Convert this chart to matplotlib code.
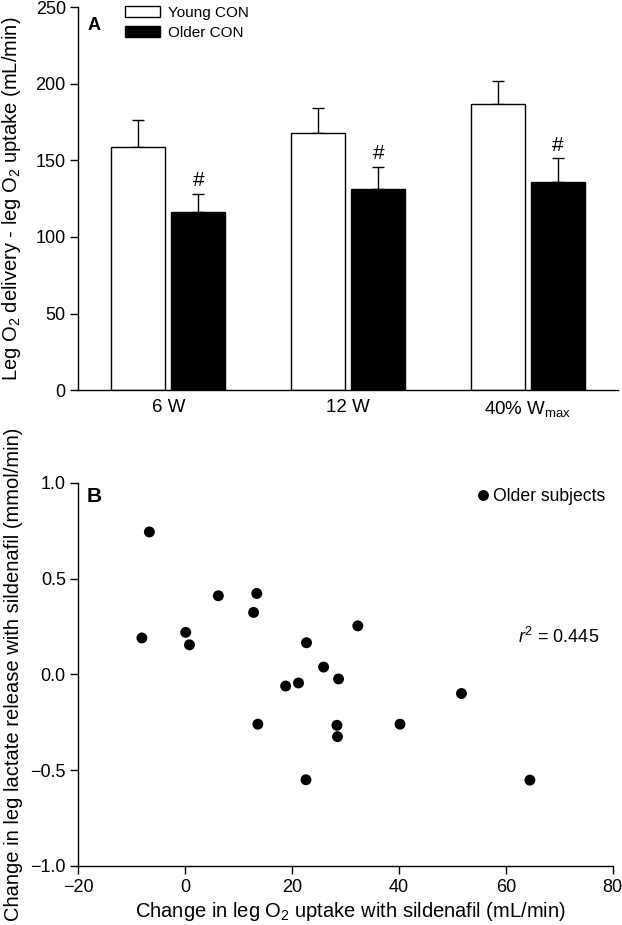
import numpy as np
import matplotlib
matplotlib.use('Agg')
import matplotlib.pyplot as plt
from matplotlib.patches import Patch
from matplotlib.lines import Line2D
from matplotlib.ticker import FuncFormatter

plt.rcParams['font.family'] = ['Liberation Sans', 'DejaVu Sans']
plt.rcParams['mathtext.fontset'] = 'custom'
plt.rcParams['mathtext.rm'] = 'Liberation Sans'
plt.rcParams['mathtext.it'] = 'Liberation Sans:italic'

# panel A data
workloads = ['6 W', '12 W', '40% W$_{\\mathregular{max}}$']
young_mean = [158.5, 167.5, 186.5]
young_sem = [18.0, 16.8, 15.0]
older_mean = [116.5, 131.0, 136.0]
older_sem = [11.5, 14.6, 15.2]

# panel B data
o2_change = [-8.1, -6.7, 0.1, 0.8, 6.2, 13.4, 12.8, 32.3, 22.7, 25.9,
             28.7, 21.2, 18.8, 13.6, 28.4, 28.5, 40.2, 22.6, 51.7, 64.5]
lactate_change = [0.19, 0.743, 0.219, 0.154, 0.41, 0.422, 0.323, 0.253, 0.165, 0.038,
                  -0.024, -0.045, -0.061, -0.26, -0.266, -0.325, -0.26, -0.55, -0.10, -0.552]
r_squared = 0.445

W, H = 622, 925
fig = plt.figure(figsize=(W / 100, H / 100), dpi=100)

def frac(left, right, top, bottom):
    return [left / W, 1 - bottom / H, (right - left) / W, (bottom - top) / H]

def style_axes(ax):
    for s in ['top', 'right']:
        ax.spines[s].set_visible(False)
    for s in ['left', 'bottom']:
        ax.spines[s].set_linewidth(1.0)

# ---- panel A ----
axA = fig.add_axes(frac(78.3, 618, 7, 390.3))
x = np.arange(len(workloads))
bw = 0.30
off = 0.167
axA.bar(x - off, young_mean, bw, color='white', edgecolor='black', linewidth=1.0, zorder=2)
axA.bar(x + off, older_mean, bw, color='black', edgecolor='black', linewidth=1.0, zorder=2)
ek = dict(fmt='none', ecolor='black', elinewidth=1.0, capsize=4.2, capthick=1.0, zorder=1)
axA.errorbar(x - off, young_mean, yerr=[np.zeros(3), young_sem], **ek)
axA.errorbar(x + off, older_mean, yerr=[np.zeros(3), older_sem], **ek)
for xi, m, s in zip(x + off, older_mean, older_sem):
    axA.text(xi, m + s + 5, '#', ha='center', va='baseline', fontsize=15)

axA.set_xlim(-0.5, 2.5)
axA.set_ylim(0, 250)
axA.set_yticks(range(0, 251, 50))
axA.set_xticks(x)
axA.set_xticklabels(workloads)
axA.tick_params(axis='x', length=0, pad=6, labelsize=13.5)
axA.tick_params(axis='y', direction='out', length=6, width=1, pad=3, labelsize=13)
style_axes(axA)
axA.set_ylabel('Leg O$_2$ delivery - leg O$_2$ uptake (mL/min)', fontsize=14.5)
axA.yaxis.set_label_coords(-0.1025, 0.5)
axA.text(0.0165, 0.975, 'A', transform=axA.transAxes, fontsize=13, fontweight='bold',
         ha='left', va='top')
handlesA = [Patch(facecolor='white', edgecolor='black', linewidth=1.0, label='Young CON'),
            Patch(facecolor='black', edgecolor='black', linewidth=1.0, label='Older CON')]
axA.legend(handles=handlesA, loc='upper left', bbox_to_anchor=(0.075, 1.018), frameon=False,
           fontsize=11, handlelength=2.3, handleheight=0.75, handletextpad=0.55,
           labelspacing=0.35, borderaxespad=0)

# ---- panel B ----
axB = fig.add_axes(frac(78.3, 612.7, 482.7, 866))
axB.scatter(o2_change, lactate_change, s=62, color='black', edgecolors='none', zorder=3)
axB.set_xlim(-20, 80)
axB.set_ylim(-1.0, 1.0)
axB.set_xticks(range(-20, 81, 20))
axB.set_yticks(np.arange(-1.0, 1.01, 0.5))
axB.xaxis.set_major_formatter(FuncFormatter(lambda v, p: ('%d' % v).replace('-', '\u2212')))
axB.yaxis.set_major_formatter(FuncFormatter(lambda v, p: ('%.1f' % v).replace('-', '\u2212')))
axB.tick_params(direction='out', length=6, width=1, pad=3, labelsize=13)
style_axes(axB)
axB.set_xlabel('Change in leg O$_2$ uptake with sildenafil (mL/min)', fontsize=14.5, labelpad=3)
axB.xaxis.label.set_x(0.51)
axB.set_ylabel('Change in leg lactate release with sildenafil (mmol/min)', fontsize=14.5)
axB.yaxis.set_label_coords(-0.1035, 0.5)
axB.text(0.016, 0.99, 'B', transform=axB.transAxes, fontsize=15, fontweight='bold',
         ha='left', va='top')
axB.text(77.4, 0.196, '$r^2$ = %.3f' % r_squared, ha='right', va='center', fontsize=13)
handlesB = [Line2D([], [], marker='o', linestyle='none', color='black', markersize=6.8,
                   label='Older subjects')]
axB.legend(handles=handlesB, loc='upper right', bbox_to_anchor=(1.0, 1.005), frameon=False,
           fontsize=12.7, handlelength=0.5, handletextpad=0.35, borderaxespad=0)

fig.savefig('out.png', dpi=100)
